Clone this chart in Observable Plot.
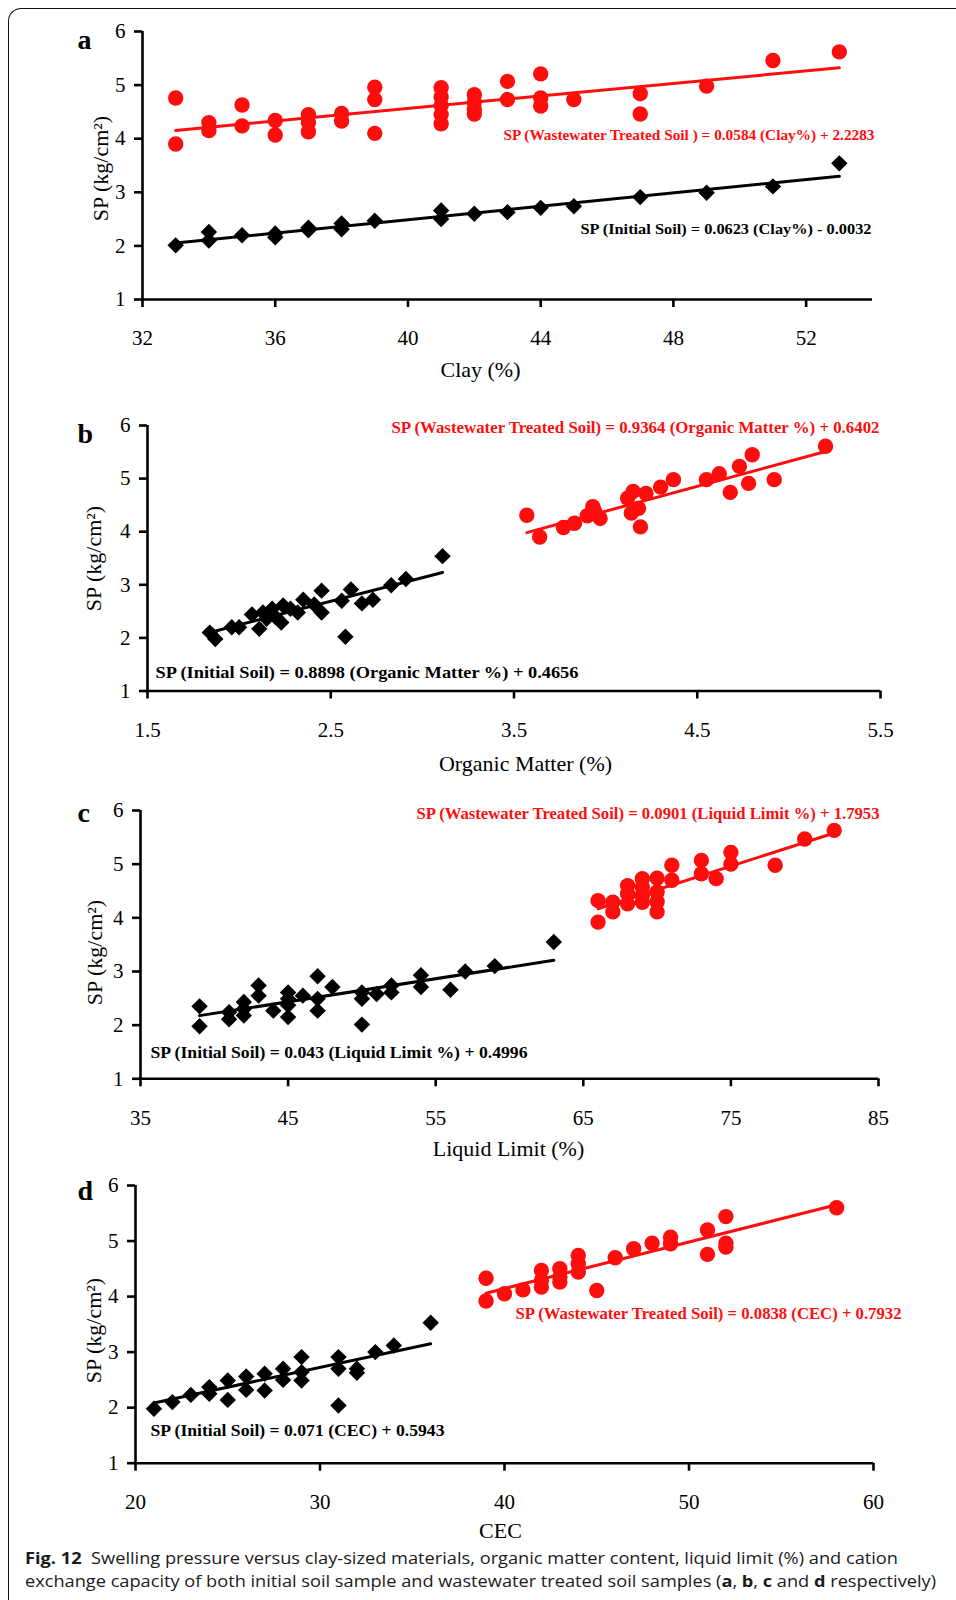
<!DOCTYPE html>
<html><head><meta charset="utf-8">
<script src="https://cdn.jsdelivr.net/npm/d3@7"></script>
<script src="https://cdn.jsdelivr.net/npm/@observablehq/plot@0.6"></script>
<style>
body{margin:0;background:#fff;}
#wrap{position:relative;width:956px;height:1600px;overflow:hidden;background:#fff;}
#border{position:absolute;left:8px;top:8px;width:1000px;height:1700px;border-top:1.6px solid #111;border-left:1.6px solid #111;border-top-left-radius:13px;}
.panel{position:absolute;left:0;}
#caption{position:absolute;left:25px;top:1547px;font-family:"Open Sans",Lato,sans-serif;font-size:16px;line-height:23px;white-space:nowrap;color:#1a1a1a;}
#caption .ln{display:inline-block;transform-origin:0 50%;}
#caption b{font-weight:700;}
</style></head><body>
<div id="wrap"><div id="border"></div><div id="panels"></div>
<div id="caption"><span class="ln" data-w="873"><b>Fig. 12</b>&nbsp; Swelling pressure versus clay-sized materials, organic matter content, liquid limit (%) and cation</span><br><span class="ln" data-w="911">exchange capacity of both initial soil sample and wastewater treated soil samples (<b>a</b>, <b>b</b>, <b>c</b> and <b>d</b> respectively)</span></div>
</div>
<script>
// ---------- DATA ----------
const ySpTicks = [1, 2, 3, 4, 5, 6];

// Panel a: Clay (%)
const aTicks = [32, 36, 40, 44, 48, 52];
const aRedX = [33,33,34,34,35,35,36,36,37,37,37,38,38,39,39,39,41,41,41,41,41,42,42,42,42,43,43,44,44,44,45,47,47,49,51,53];
const aRedY = [4.76,3.90,4.30,4.15,4.63,4.24,4.34,4.07,4.45,4.30,4.13,4.47,4.33,4.96,4.73,4.10,4.95,4.78,4.62,4.45,4.28,4.82,4.68,4.55,4.46,5.07,4.73,5.21,4.76,4.61,4.73,4.84,4.46,4.98,5.46,5.62];
const aBlkX = [33,34,34,35,36,36,37,37,38,38,39,41,41,42,43,44,45,47,49,51,53];
const aBlkY = [2.01,2.26,2.10,2.20,2.23,2.16,2.34,2.29,2.42,2.31,2.47,2.66,2.50,2.60,2.63,2.71,2.74,2.91,2.99,3.11,3.54];
const aLineRed = [[33, 4.155], [53, 5.323]];
const aLineBlk = [[33, 2.053], [53, 3.299]];
const aEq = {red: "SP (Wastewater Treated Soil ) = 0.0584 (Clay%) + 2.2283", black: "SP (Initial Soil) = 0.0623 (Clay%) - 0.0032"};

// Panel b: Organic Matter (%)
const bTicks = [1.5, 2.5, 3.5, 4.5, 5.5];
const bRedX = [3.57,3.64,3.77,3.83,3.93,3.90,3.97,3.94,4.12,4.15,4.22,4.14,4.18,4.19,4.30,4.37,4.55,4.62,4.68,4.73,4.78,4.80,4.92,5.20];
const bRedY = [4.31,3.90,4.08,4.16,4.47,4.30,4.25,4.38,4.63,4.76,4.72,4.35,4.44,4.09,4.84,4.98,4.98,5.09,4.74,5.23,4.91,5.45,4.98,5.61];
const bBlkX = [1.84,1.87,1.96,2.00,2.07,2.11,2.13,2.15,2.18,2.20,2.23,2.24,2.28,2.32,2.35,2.41,2.45,2.45,2.56,2.58,2.61,2.67,2.73,2.83,2.91,3.11];
const bBlkY = [2.10,1.98,2.20,2.20,2.44,2.17,2.48,2.36,2.55,2.39,2.29,2.61,2.55,2.48,2.72,2.63,2.89,2.48,2.70,2.02,2.91,2.65,2.72,2.99,3.11,3.54];
const bLineRed = [[3.57, 3.983], [5.20, 5.510]];
const bLineBlk = [[1.84, 2.103], [3.11, 3.233]];
const bEq = {red: "SP (Wastewater Treated Soil) = 0.9364 (Organic Matter %) + 0.6402", black: "SP (Initial Soil) = 0.8898 (Organic Matter %) + 0.4656"};

// Panel c: Liquid Limit (%)
const cTicks = [35, 45, 55, 65, 75, 85];
const cRedX = [66,66,67,67,68,68,68,69,69,69,69,70,70,70,70,71,71,73,73,74,75,75,78,80,82];
const cRedY = [4.32,3.92,4.29,4.11,4.60,4.45,4.26,4.73,4.57,4.42,4.29,4.74,4.48,4.30,4.11,4.98,4.70,5.07,4.82,4.73,5.22,5.00,4.98,5.47,5.63];
const cBlkX = [39,39,41,41,42,42,42,43,43,44,45,45,45,45,46,47,47,47,48,50,50,50,51,52,52,54,54,56,57,59,63];
const cBlkY = [2.35,1.98,2.24,2.11,2.43,2.30,2.18,2.74,2.55,2.27,2.61,2.49,2.37,2.15,2.55,2.91,2.49,2.27,2.71,2.61,2.49,2.01,2.58,2.74,2.61,2.93,2.71,2.66,3.00,3.10,3.55];
const cLineRed = [[66, 4.17], [82, 5.58]];
const cLineBlk = [[39, 2.177], [63, 3.209]];
const cEq = {red: "SP (Wastewater Treated Soil) = 0.0901 (Liquid Limit %) + 1.7953", black: "SP (Initial Soil) = 0.043 (Liquid Limit %) + 0.4996"};

// Panel d: CEC
const dTicks = [20, 30, 40, 50, 60];
const dRedX = [39,39,40,41,42,42,42,43,43,43,44,44,44,45,46,47,48,49,49,51,51,52,52,52,58];
const dRedY = [4.33,3.92,4.05,4.12,4.47,4.29,4.17,4.50,4.35,4.26,4.74,4.59,4.44,4.11,4.70,4.86,4.96,5.07,4.95,5.20,4.76,5.44,4.96,4.89,5.60];
const dBlkX = [21,22,23,24,24,25,25,26,26,27,27,28,28,29,29,29,31,31,31,32,32,33,34,36];
const dBlkY = [1.98,2.10,2.23,2.37,2.25,2.49,2.14,2.56,2.32,2.61,2.31,2.70,2.50,2.91,2.64,2.49,2.91,2.70,2.04,2.70,2.63,3.00,3.12,3.53];
const dLineRed = [[39, 4.061], [58, 5.653]];
const dLineBlk = [[21, 2.085], [36, 3.150]];
const dEq = {red: "SP (Wastewater Treated Soil) = 0.0838 (CEC) + 0.7932", black: "SP (Initial Soil) = 0.071 (CEC) + 0.5943"};

// ---------- RENDER ----------
const RED = "#ff0d0d";
const SERIF = "Liberation Serif, Times New Roman, serif";

function panel(cfg) {
  const {top, height, ml, mr, mt, mb, xDomain, xTicks, rx, ry, bx, by, lineRed, lineBlk, eq, letter, xLabel, geo} = cfg;
  const T = (s, X, Y, o) => Plot.text([s], {frameAnchor: "top-left", dx: X - ml, dy: (Y - top) - mt, ...o});
  const plot = Plot.plot({
    width: 956, height,
    marginLeft: ml, marginRight: mr, marginTop: mt, marginBottom: mb,
    style: {fontFamily: SERIF, fontSize: "21px", color: "#000", background: "transparent", overflow: "visible"},
    x: {domain: xDomain, axis: null},
    y: {domain: [1, 6], axis: null},
    marks: [
      Plot.axisX({ticks: xTicks, tickSize: 8, tickPadding: 23, strokeWidth: 2.6, fontSize: 21, label: null, tickFormat: d => String(d)}),
      Plot.axisY({ticks: ySpTicks, tickSize: 8, tickPadding: 9, strokeWidth: 2.6, fontSize: 21, label: null, tickFormat: d => String(d)}),
      Plot.ruleY([1], {stroke: "#000", strokeWidth: 2.6}),
      Plot.ruleX([xDomain[0]], {stroke: "#000", strokeWidth: 2.6}),
      Plot.dot(ry, {x: rx, y: ry, r: 7.7, fill: RED, stroke: "none"}),
      Plot.dot(by, {x: bx, y: by, r: 7.4, symbol: "diamond2", fill: "#000", stroke: "none"}),
      Plot.line(lineRed, {x: d => d[0], y: d => d[1], stroke: RED, strokeWidth: 3}),
      Plot.line(lineBlk, {x: d => d[0], y: d => d[1], stroke: "#000", strokeWidth: 3}),
      T(eq.red, geo.redX, geo.redY, {textAnchor: "start", lineAnchor: "middle", fill: RED, fontWeight: "bold", fontSize: geo.eqFs}),
      T(eq.black, geo.blkX, geo.blkY, {textAnchor: "start", lineAnchor: "middle", fill: "#000", fontWeight: "bold", fontSize: geo.eqFs}),
      T(letter, 77, geo.letterBase - 0.32 * 28, {textAnchor: "start", lineAnchor: "middle", fontWeight: "bold", fontSize: 28, fill: "#000"}),
      T(xLabel, geo.xlX, geo.xlY, {textAnchor: "middle", lineAnchor: "middle", fontSize: 22, fill: "#000"}),
      T("SP (kg/cm²)", geo.ylX, geo.ylY, {textAnchor: "middle", lineAnchor: "middle", fontSize: 22, rotate: -90, fill: "#000"})
    ]
  });
  plot.classList.add("panel");
  plot.style.top = top + "px";
  plot.querySelectorAll("text").forEach(t => {
    if (t.textContent === eq.red) { t.setAttribute("textLength", geo.redW); t.setAttribute("lengthAdjust", "spacingAndGlyphs"); }
    if (t.textContent === eq.black) { t.setAttribute("textLength", geo.blkW); t.setAttribute("lengthAdjust", "spacingAndGlyphs"); }
  });
  document.getElementById("panels").appendChild(plot);
}

panel({top: 0, height: 385, ml: 142, mr: 84, mt: 31, mb: 86, xDomain: [32, 54], xTicks: aTicks,
  rx: aRedX, ry: aRedY, bx: aBlkX, by: aBlkY, lineRed: aLineRed, lineBlk: aLineBlk, eq: aEq, letter: "a", xLabel: "Clay (%)",
  geo: {redX: 503, redY: 135, redW: 371, blkX: 580, blkY: 229, blkW: 291, eqFs: 15, letterBase: 48, xlX: 480, xlY: 369, ylX: 100, ylY: 168}});
panel({top: 385, height: 385, ml: 147, mr: 76, mt: 40, mb: 79.5, xDomain: [1.5, 5.5], xTicks: bTicks,
  rx: bRedX, ry: bRedY, bx: bBlkX, by: bBlkY, lineRed: bLineRed, lineBlk: bLineBlk, eq: bEq, letter: "b", xLabel: "Organic Matter (%)",
  geo: {redX: 391, redY: 427, redW: 488, blkX: 155, blkY: 672, blkW: 423, eqFs: 16.5, letterBase: 442, xlX: 525, xlY: 763, ylX: 93, ylY: 558}});
panel({top: 770, height: 385, ml: 140, mr: 78, mt: 40, mb: 76.7, xDomain: [35, 85], xTicks: cTicks,
  rx: cRedX, ry: cRedY, bx: cBlkX, by: cBlkY, lineRed: cLineRed, lineBlk: cLineBlk, eq: cEq, letter: "c", xLabel: "Liquid Limit (%)",
  geo: {redX: 416, redY: 813, redW: 463, blkX: 150, blkY: 1052, blkW: 377, eqFs: 16.5, letterBase: 821, xlX: 508, xlY: 1148, ylX: 94, ylY: 952}});
panel({top: 1155, height: 385, ml: 135, mr: 83, mt: 30, mb: 77.3, xDomain: [20, 60], xTicks: dTicks,
  rx: dRedX, ry: dRedY, bx: dBlkX, by: dBlkY, lineRed: dLineRed, lineBlk: dLineBlk, eq: dEq, letter: "d", xLabel: "CEC",
  geo: {redX: 515, redY: 1313, redW: 386, blkX: 150, blkY: 1430, blkW: 294, eqFs: 16.5, letterBase: 1199, xlX: 500, xlY: 1530, ylX: 93, ylY: 1330}});

// caption line widths
document.querySelectorAll("#caption .ln").forEach(el => {
  const w = el.getBoundingClientRect().width;
  el.style.transform = `scaleX(${(+el.dataset.w) / w})`;
});
</script>
</body></html>
